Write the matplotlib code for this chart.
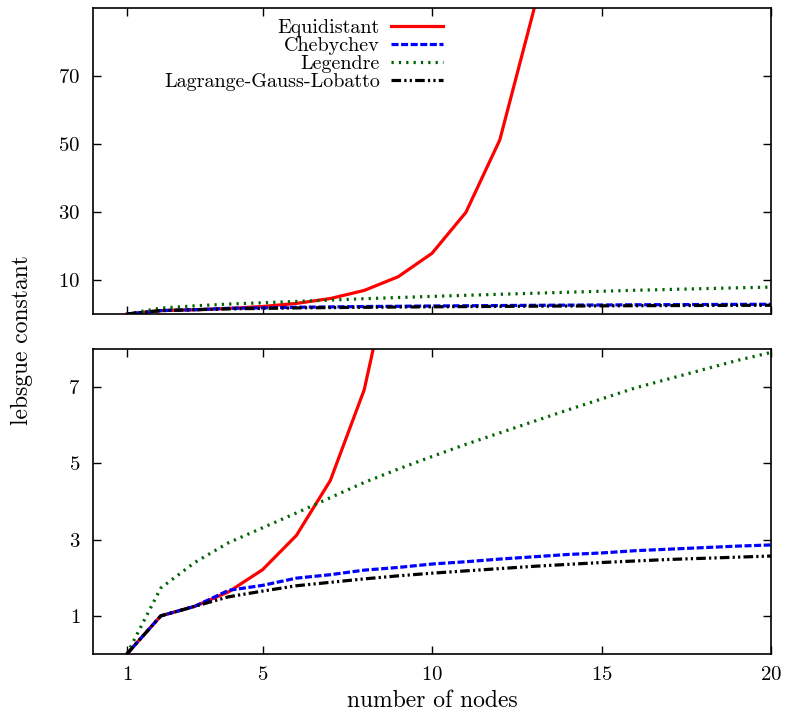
import matplotlib
matplotlib.use("Agg")
import matplotlib.pyplot as plt
import numpy as np

plt.rcParams['font.family'] = ['cmr10', 'DejaVu Serif']
plt.rcParams['axes.formatter.use_mathtext'] = True

# number of nodes
nodes = list(range(1, 21))

# Lebesgue constants
equidistant = [0.0, 1.0, 1.25, 1.63, 2.21, 3.11, 4.55, 6.93, 10.95, 17.85,
               29.9, 51.2, 89.3, 158.0, 283.0, 509.0, 935.0, 1721.0, 3185.0, 5920.0]
chebychev = [0.0, 1.0, 1.25, 1.67, 1.80, 1.99, 2.08, 2.20, 2.27, 2.36,
             2.42, 2.49, 2.55, 2.61, 2.65, 2.71, 2.75, 2.79, 2.83, 2.86]
legendre = [0.0, 1.73, 2.40, 2.92, 3.31, 3.70, 4.10, 4.50, 4.85, 5.18,
            5.50, 5.80, 6.10, 6.40, 6.69, 6.98, 7.22, 7.46, 7.70, 7.91]
lgl = [0.0, 1.0, 1.25, 1.50, 1.65, 1.79, 1.88, 1.97, 2.05, 2.12,
       2.18, 2.24, 2.30, 2.35, 2.40, 2.44, 2.48, 2.51, 2.54, 2.57]

labels = ["Equidistant", "Chebychev", "Legendre", "Lagrange-Gauss-Lobatto"]
series = [equidistant, chebychev, legendre, lgl]
colors = ["#ff0000", "#0000ff", "#006400", "#000000"]
styles = ["-", (0, (2.2, 0.8)), (0, (0.7, 1.6)), (0, (3, 1, 0.7, 1, 0.7, 1))]

fig = plt.figure(figsize=(7.87, 7.17), dpi=100)
W, H = 787, 717
ax_top = fig.add_axes([93 / W, 1 - 314 / H, (771 - 93) / W, (314 - 8) / H])
ax_bot = fig.add_axes([93 / W, 1 - 654 / H, (771 - 93) / W, (654 - 349) / H])

for ax in (ax_top, ax_bot):
    for y, lab, c, ls in zip(series, labels, colors, styles):
        ax.plot(nodes, y, color=c, linestyle=ls, lw=2.3, label=lab)
    ax.set_xlim(0, 20)
    ax.set_xticks([1, 5, 10, 15, 20])
    ax.tick_params(direction='in', top=True, right=True, length=6,
                   labelsize=15, width=1, pad=9)
    for sp in ax.spines.values():
        sp.set_linewidth(1.2)

ax_top.set_ylim(0, 90)
ax_top.set_yticks([10, 30, 50, 70])
ax_top.tick_params(labelbottom=False)

ax_bot.set_ylim(0, 8)
ax_bot.set_yticks([1, 3, 5, 7])
ax_bot.set_xlabel("number of nodes", fontsize=17, labelpad=4)

leg = ax_top.legend(loc='upper left', bbox_to_anchor=(0.078, 1.025), frameon=False,
                    markerfirst=False, fontsize=14.5, handlelength=2.6,
                    labelspacing=0.0, handletextpad=0.55)
for t in leg.get_texts():
    t.set_ha('right')
leg._legend_box.align = 'right'

fig.text(22 / W, 1 - 340 / H, "lebsgue constant", rotation=90,
         ha='center', va='center', fontsize=17)

fig.savefig("out.png", dpi=100)
